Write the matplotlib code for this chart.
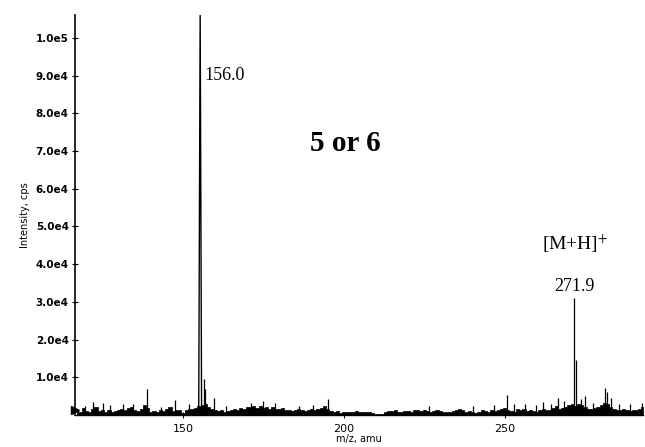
import matplotlib
matplotlib.use("Agg")
import matplotlib.pyplot as plt
import numpy as np

# ---- data ----
mz_start = 117
noise = [
    1400, 900, 1800, 1100, 700, 1500, 2200, 1000, 1300, 900,
    1200, 800, 1100, 1400, 1600, 1200, 1900, 2100, 1300, 1000,
    1600, 2600, 1800, 900, 1100, 800, 1200, 1000, 1500, 2000,
    1100, 1400, 1300, 600, 1400, 1700, 1500, 1900, 2400, 2600,
    2800, 2200, 1500, 1200, 1000, 1300, 900, 1100, 1200, 1600,
    1400, 1900, 1700, 2200, 2000, 2500, 1800, 2300, 1900, 2100,
    1500, 2000, 1700, 1600, 1800, 1200, 1400, 1100, 1300, 1600,
    1200, 1000, 1400, 1700, 1300, 1500, 1800, 2300, 1600, 1100,
    900, 1000, 600, 800, 900, 700, 800, 1000, 900, 700,
    800, 900, 600, 300, 200, 300, 900, 1100, 1000, 1200,
    900, 800, 1100, 1000, 700, 1300, 1200, 1000, 1400, 1100,
    900, 1000, 1300, 1100, 800, 700, 900, 1000, 1200, 1500,
    1300, 900, 1100, 800, 600, 700, 1200, 1000, 900, 1400,
    1100, 1300, 1600, 1800, 1300, 1100, 900, 1500, 1300, 1700,
    1000, 1200, 1100, 900, 1300, 1500, 1400, 1200, 1900, 2400,
    1500, 1800, 2200, 2600, 2800, 2500, 3000, 2600, 2200, 1700,
    1500, 1900, 2100, 2600, 3200, 3000, 2200, 1600, 1400, 1200,
    1500, 1300, 1100, 1400, 1200, 1600, 2000,
]
# main base peak profile (m/z 156.0 label), apex clipped at top
base_mz = [154.9, 155.35, 155.8]
base_int = [0, 107000, 0]
# other sticks
peak_mz = [119.5, 122.0, 125.2, 127.3, 131.5, 134.6, 138.9, 143.2, 147.5,
           151.8, 156.5, 156.9, 159.5, 163.4, 171.0, 174.8, 178.6, 186.0,
           190.5, 195.0, 226.4, 240.2, 246.7, 250.8, 253.0, 256.3, 259.6,
           262.0, 264.3, 266.6, 268.4, 271.7, 272.3, 273.6, 275.0, 277.5,
           281.3, 281.9, 283.0, 285.6, 288.9, 292.8]
peak_int = [2500, 3400, 3200, 2600, 2800, 2900, 6900, 2200, 4000,
            3000, 9500, 7000, 4500, 2400, 3300, 3600, 3200, 2500,
            2700, 4200, 2300, 2400, 2600, 5300, 3000, 3000, 2700,
            3500, 3000, 4600, 3800, 31000, 14500, 4200, 5000, 3300,
            7200, 6000, 4500, 2800, 3000, 3200]
ytick_vals = [1e4, 2e4, 3e4, 4e4, 5e4, 6e4, 7e4, 8e4, 9e4, 1e5]
ytick_labels = ["1.0e4", "2.0e4", "3.0e4", "4.0e4", "5.0e4",
                "6.0e4", "7.0e4", "8.0e4", "9.0e4", "1.0e5"]
xtick_vals = [150, 200, 250]

mz = np.arange(mz_start, mz_start + len(noise))

plt.rcParams["mathtext.fontset"] = "stix"
fig = plt.figure(figsize=(6.45, 4.47), dpi=100)
ax = fig.add_axes([0.1163, 0.0716, 0.8806, 0.8949])

ax.fill_between(mz, 0, noise, step="mid", color="black", lw=0.5)
ax.vlines(peak_mz, 0, peak_int, color="black", lw=0.9)
ax.plot(base_mz, base_int, color="black", lw=1.0)

ax.set_xlim(116.45, 293.0)
ax.set_ylim(0, 1.061e5)

# left triangle marker at baseline
ax.plot([116.45], [1300], marker=">", color="black", markersize=6,
        clip_on=False, zorder=5)

for s in ["top", "right"]:
    ax.spines[s].set_visible(False)
ax.spines["left"].set_linewidth(1.2)
ax.spines["bottom"].set_linewidth(1.0)

ax.set_yticks(ytick_vals)
ax.set_yticklabels(ytick_labels, fontsize=7.5, fontweight="semibold")
ax.set_xticks(xtick_vals)
ax.set_xticklabels([str(v) for v in xtick_vals], fontsize=8)
ax.tick_params(axis="both", direction="inout", length=5, width=0.8, pad=2)
ax.tick_params(axis="x", pad=4)

ax.set_ylabel("Intensity, cps", fontsize=7, labelpad=4)
ax.set_xlabel("m/z, amu", fontsize=7, labelpad=0)

serif = "Liberation Serif"
ax.text(156.6, 9.0e4, "156.0", fontsize=13, family=serif, va="center", ha="left")
ax.text(200.4, 7.2e4, "5 or 6", fontsize=21, family=serif, fontweight="bold",
        va="center", ha="center")
ax.text(271.8, 4.55e4, "[M+H]$^{+}$", fontsize=14, family=serif,
        va="center", ha="center")
ax.text(271.8, 3.4e4, "271.9", fontsize=13, family=serif, va="center", ha="center")

fig.savefig("out.png", dpi=100)
